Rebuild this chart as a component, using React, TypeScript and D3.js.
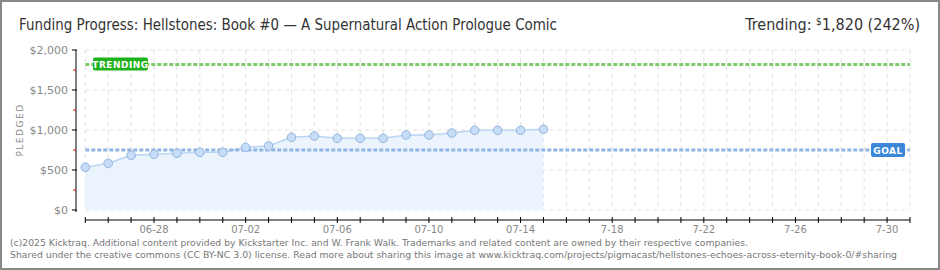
import React from "react";
import * as d3 from "d3";

const dates = ["2025-06-25","2025-06-26","2025-06-27","2025-06-28","2025-06-29","2025-06-30","2025-07-01","2025-07-02","2025-07-03","2025-07-04","2025-07-05","2025-07-06","2025-07-07","2025-07-08","2025-07-09","2025-07-10","2025-07-11","2025-07-12","2025-07-13","2025-07-14","2025-07-15"];
const pledged = [534,584,684,696,709,721,721,784,800,909,925,896,896,896,938,938,963,996,996,996,1009];
const goal = 750;
const trending = 1820;
const yTicks = [0,500,1000,1500,2000];
const yMinor = [250,750,1250,1750];
const xLabelDates = ["2025-06-28","2025-07-02","2025-07-06","2025-07-10","2025-07-14","2025-07-18","2025-07-22","2025-07-26","2025-07-30"];
const xLabels = ["06-28","07-02","07-06","07-10","07-14","7-18","7-22","7-26","7-30"];
const title = "Funding Progress: Hellstones: Book #0 \u2014 A Supernatural Action Prologue Comic";
const footer1 = "(c)2025 Kicktraq. Additional content provided by Kickstarter Inc. and W. Frank Walk. Trademarks and related content are owned by their respective companies.";
const footer2 = "Shared under the creative commons (CC BY-NC 3.0) license. Read more about sharing this image at www.kicktraq.com/projects/pigmacast/hellstones-echoes-across-eternity-book-0/#sharing";

const W = 940, H = 270;
const parse = (s: string) => new Date(s + "T00:00:00Z");

export default function App() {
  const x = d3.scaleUtc().domain([parse("2025-06-25"), parse("2025-07-31")]).range([85.3, 910]);
  const y = d3.scaleLinear().domain([0, 2000]).range([210, 50]);
  const days = d3.utcDay.range(parse("2025-06-25"), d3.utcDay.offset(parse("2025-07-31"), 1));
  const pts = dates.map((d, i) => ({ d: parse(d), v: pledged[i] }));
  const line = d3.line<any>().x(p => x(p.d)).y(p => y(p.v));
  const area = d3.area<any>().x(p => x(p.d)).y0(y(0)).y1(p => y(p.v));
  const x0 = x.range()[0], x1 = x.range()[1];
  const axisFont = "'DejaVu Sans', Verdana, sans-serif";
  const condFont = "'DejaVu Sans Condensed', 'Liberation Sans Narrow', sans-serif";
  return (
    <svg width={W} height={H} style={{ position: "absolute", left: 0, top: 0, background: "#fff" }}>
      <rect x={1} y={1} width={W - 2} height={H - 2} fill="#fff" stroke="#888" strokeWidth={2} />
      <text x={19} y={30} fontFamily={condFont} fontSize={16} fill="#333" textLength={538} lengthAdjust="spacingAndGlyphs">{title}</text>
      <text x={920} y={30} textAnchor="end" fontFamily={condFont} fontSize={16} fill="#333">
        Trending:  <tspan fontSize={10} dy={-5}>$</tspan><tspan dy={5}>1,820 (242%)</tspan>
      </text>
      {days.map((d, i) => (
        <line key={"vg" + i} x1={x(d)} x2={x(d)} y1={y(2000)} y2={y(0)} stroke="#e0e0e0" strokeDasharray="4,4" />
      ))}
      {yTicks.map(t => (
        <line key={"hg" + t} x1={x0} x2={x1} y1={y(t)} y2={y(t)} stroke="#e0e0e0" strokeDasharray="4,4" />
      ))}
      <path d={area(pts) || ""} fill="#e9f2fc" opacity={0.9} />
      <path d={line(pts) || ""} fill="none" stroke="#b9d5f3" strokeWidth={1.5} />
      <line x1={x0} x2={x1} y1={y(goal)} y2={y(goal)} stroke="#8fb5e3" strokeWidth={3} strokeDasharray="4,2" />
      <line x1={x0} x2={x1} y1={y(trending)} y2={y(trending)} stroke="#7ecb6c" strokeWidth={3} strokeDasharray="4,2" />
      {pts.map((p, i) => (
        <circle key={"pt" + i} cx={x(p.d)} cy={y(p.v)} r={4.3} fill="#c6ddf7" stroke="#93b4dc" strokeWidth={1} />
      ))}
      <rect x={93} y={y(trending) - 7} width={55} height={13} rx={2} fill="#1fb11c" />
      <text x={120.5} y={y(trending) + 3.5} textAnchor="middle" fontFamily={axisFont} fontSize={9} fontWeight="bold" fill="#fff" letterSpacing={0.5}>TRENDING</text>
      <rect x={871} y={y(goal) - 7} width={34} height={14} rx={2} fill="#3b87d8" />
      <text x={888} y={y(goal) + 3.5} textAnchor="middle" fontFamily={axisFont} fontSize={9} fontWeight="bold" fill="#fff" letterSpacing={0.5}>GOAL</text>
      <line x1={76} x2={76} y1={y(2000)} y2={212} stroke="#000" strokeWidth={1} />
      {yTicks.map(t => (
        <g key={"yt" + t}>
          <line x1={72} x2={77} y1={y(t)} y2={y(t)} stroke="#000" />
          <text x={68} y={y(t) + 4} textAnchor="end" fontFamily={axisFont} fontSize={11} fill="#888">{"$" + d3.format(",")(t)}</text>
        </g>
      ))}
      {yMinor.map(t => (
        <line key={"ym" + t} x1={73} x2={76} y1={y(t)} y2={y(t)} stroke="#e00" />
      ))}
      <text transform={`translate(23,130) rotate(-90)`} textAnchor="middle" fontFamily={axisFont} fontSize={9} fill="#888" letterSpacing={1.5}>PLEDGED</text>
      <line x1={x0} x2={x1} y1={220} y2={220} stroke="#000" />
      {days.map((d, i) => (
        <line key={"xt" + i} x1={x(d)} x2={x(d)} y1={217} y2={223} stroke="#000" />
      ))}
      {xLabelDates.map((d, i) => (
        <text key={"xl" + i} x={x(parse(d))} y={233} textAnchor="middle" fontFamily={axisFont} fontSize={10} fill="#888">{xLabels[i]}</text>
      ))}
      <text x={10} y={246} fontFamily={axisFont} fontSize={9.5} fill="#777" textLength={738} lengthAdjust="spacingAndGlyphs">{footer1}</text>
      <text x={10} y={258} fontFamily={axisFont} fontSize={9.5} fill="#777" textLength={887} lengthAdjust="spacingAndGlyphs">{footer2}</text>
    </svg>
  );
}
